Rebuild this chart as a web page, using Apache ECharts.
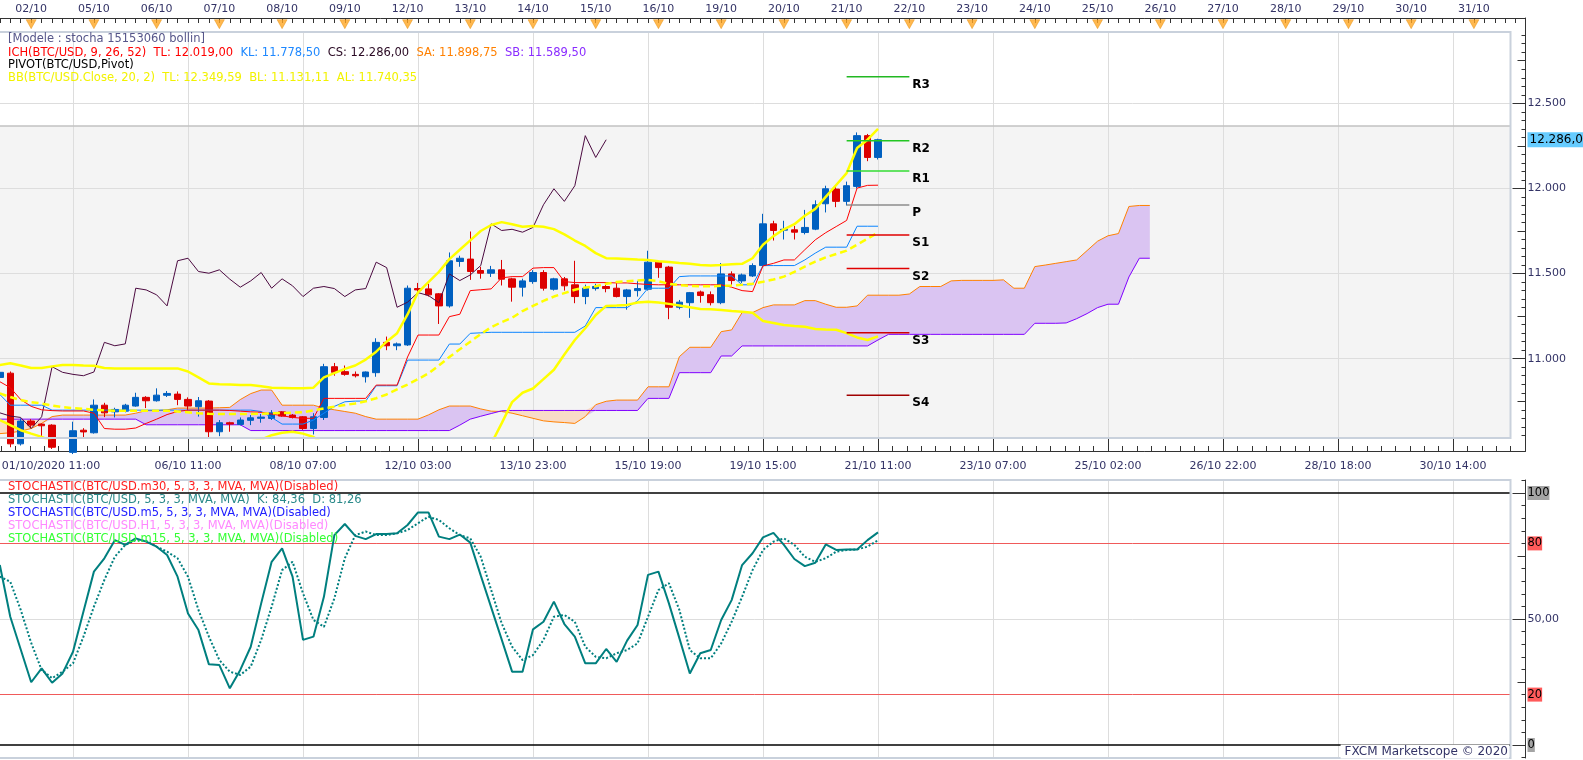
<!DOCTYPE html>
<html>
<head>
<meta charset="utf-8">
<script src="https://cdn.jsdelivr.net/npm/echarts@6/dist/echarts.min.js"></script>
<style>html,body{margin:0;padding:0;background:#fff;}#c{width:1583px;height:760px;}</style>
</head>
<body>
<div id="c"></div>
<script>
// ---------------- DATA ----------------
const opens = [
10890,10915,10500,10634,10616,10610,10480,10450,10580,10565,
10727,10688,10692,10722,10773,10753,10785,10792,10761,10718,
10751,10571,10624,10614,10638,10650,10649,10688,10669,10659,
10590,10655,10953,10924,10908,10894,10918,11096,11076,11081,
11412,11410,11381,11310,11571,11585,11518,11502,11522,11469,
11420,11453,11506,11408,11469,11434,11365,11412,11424,11414,
11365,11400,11408,11567,11538,11302,11329,11392,11376,11329,
11498,11457,11486,11547,11792,11755,11757,11741,11761,11910,
11996,11924,12012,12310,12182];
const closes = [
10920,10500,10634,10610,10606,10480,10450,10577,10570,10727,
10682,10702,10727,10773,10753,10786,10796,10761,10722,10753,
10571,10624,10616,10640,10653,10657,10682,10663,10655,10590,
10659,10953,10920,10908,10900,10922,11096,11076,11087,11414,
11404,11375,11310,11575,11590,11512,11502,11522,11467,11420,
11457,11506,11414,11469,11428,11365,11414,11424,11412,11365,
11404,11412,11567,11535,11302,11332,11388,11371,11329,11498,
11459,11492,11547,11792,11753,11760,11743,11771,11904,11998,
11924,12016,12310,12182,12286];
const highs = [
10935,10925,10650,10645,10620,10615,10520,10630,10592,10761,
10741,10712,10735,10800,10780,10826,10810,10808,10773,10775,
10757,10640,10630,10655,10669,10675,10698,10692,10675,10663,
10680,10970,10975,10960,10925,10925,11120,11130,11095,11430,
11445,11440,11385,11624,11605,11747,11540,11545,11580,11475,
11470,11520,11520,11475,11480,11575,11435,11440,11450,11453,
11410,11457,11634,11575,11545,11345,11392,11400,11395,11562,
11513,11500,11560,11851,11810,11810,11780,11874,11930,12016,
12012,12040,12329,12320,12292];
const lows = [
10880,10480,10490,10592,10541,10470,10400,10440,10530,10560,
10657,10655,10685,10718,10710,10748,10775,10727,10698,10660,
10538,10545,10571,10608,10610,10624,10640,10659,10649,10582,
10555,10640,10900,10900,10890,10860,10894,11050,11050,11075,
11390,11365,11204,11300,11540,11463,11470,11480,11430,11335,
11365,11440,11400,11400,11400,11326,11320,11400,11390,11360,
11288,11365,11400,11475,11232,11290,11240,11329,11313,11320,
11434,11445,11480,11540,11694,11700,11700,11730,11755,11859,
11890,11900,12000,12160,12170];

// Ichimoku
const tenkan = [
10865,10830,10760,10720,10700,10695,10693,10693,10693,10680,
10590,10586,10586,10593,10620,10645,10672,10690,10698,10698,
10698,10698,10696,10692,10688,10685,10675,10665,10655,10650,
10650,10767,10767,10767,10767,10767,10845,10845,10845,11010,
11139,11139,11139,11247,11261,11400,11405,11410,11475,11482,
11482,11532,11535,11535,11453,11447,11447,11447,11447,11445,
11445,11440,11436,11434,11434,11434,11434,11434,11434,11434,
11420,11400,11394,11545,11560,11580,11580,11640,11698,11740,
11776,11812,12002,12018,12019];
const kijun = [
10790,10727,10727,10727,10727,10698,10698,10698,10698,10698,
10698,10698,10698,10698,10698,10698,10698,10698,10698,10698,
10698,10698,10698,10698,10698,10690,10655,10616,10616,10616,
10640,10680,10720,10747,10751,10751,10841,10841,10841,10992,
10992,10992,10992,11086,11086,11149,11152,11155,11155,11155,
11155,11155,11155,11155,11155,11155,11192,11300,11300,11300,
11300,11340,11414,11414,11414,11482,11486,11486,11486,11486,
11486,11434,11434,11547,11547,11547,11547,11580,11620,11655,
11655,11655,11778,11778,11778];
const chikou = [
10682,10663,10655,10590,10659,10953,10920,10908,10900,10922,
11096,11076,11087,11414,11404,11375,11310,11575,11590,11512,
11502,11522,11467,11420,11457,11506,11414,11469,11428,11365,
11414,11424,11412,11365,11404,11412,11567,11535,11302,11332,
11388,11371,11329,11498,11459,11492,11547,11792,11753,11760,
11743,11771,11904,11998,11924,12016,12310,12182,12286];
const senkouA = [
10560,10565,10575,10590,10620,10660,10669,10669,10669,10669,
10669,10669,10669,10680,10695,10695,10700,10710,10710,10710,
10710,10712,10714,10760,10795,10816,10816,10727,10727,10727,
10727,10710,10700,10690,10680,10660,10645,10645,10645,10645,
10645,10670,10700,10722,10722,10722,10705,10692,10690,10680,
10665,10650,10635,10629,10625,10620,10660,10730,10750,10757,
10757,10757,10835,10835,10835,11012,11067,11067,11067,11159,
11169,11271,11271,11300,11316,11316,11316,11341,11341,11320,
11302,11302,11310,11373,11373,11373,11373,11380,11424,11424,
11424,11457,11460,11460,11460,11460,11463,11414,11414,11541,
11550,11560,11570,11580,11635,11690,11722,11735,11894,11900,
11900];
const senkouB = [
10645,10645,10645,10645,10645,10645,10645,10645,10645,10645,
10645,10645,10645,10645,10612,10612,10612,10612,10612,10612,
10612,10612,10612,10612,10578,10578,10578,10578,10578,10578,
10578,10578,10578,10578,10578,10578,10578,10578,10578,10578,
10578,10578,10578,10578,10610,10645,10662,10678,10694,10696,
10696,10696,10696,10696,10696,10696,10696,10696,10696,10696,
10696,10696,10767,10767,10767,10918,10918,10918,10918,11016,
11016,11075,11075,11075,11075,11075,11075,11075,11075,11075,
11075,11075,11075,11075,11110,11143,11143,11143,11143,11143,
11143,11143,11143,11143,11143,11143,11143,11143,11143,11208,
11208,11208,11210,11235,11265,11300,11320,11320,11480,11590,
11590];

// Bollinger (20, 2)
const bbUpper = [
10963,10973,10960,10945,10945,10955,10963,10963,10960,10959,
10945,10943,10943,10943,10943,10943,10943,10943,10925,10890,
10855,10850,10848,10846,10845,10838,10830,10828,10826,10826,
10830,10890,10915,10940,10960,10995,11041,11100,11150,11260,
11390,11450,11510,11585,11640,11695,11750,11785,11802,11790,
11775,11780,11775,11761,11730,11694,11662,11620,11590,11588,
11585,11582,11580,11573,11568,11562,11557,11551,11548,11550,
11555,11557,11590,11669,11720,11760,11790,11840,11880,11950,
12020,12090,12237,12286,12350];
const bbMiddle = [
10796,10775,10757,10745,10737,10725,10716,10710,10706,10700,
10697,10694,10694,10694,10694,10694,10694,10690,10685,10680,
10676,10675,10675,10675,10675,10677,10679,10681,10683,10686,
10697,10708,10718,10728,10737,10750,10768,10790,10820,10848,
10880,10914,10960,11010,11055,11100,11145,11185,11215,11240,
11280,11310,11340,11365,11385,11405,11418,11426,11440,11450,
11455,11460,11463,11455,11440,11432,11428,11425,11425,11428,
11430,11434,11440,11452,11465,11482,11510,11541,11570,11595,
11615,11635,11670,11705,11740];
const bbLower = [
10640,10610,10580,10560,10541,10515,10470,10440,10430,10420,
10420,10420,10420,10420,10420,10420,10420,10420,10420,10430,
10450,10470,10490,10505,10515,10525,10551,10565,10571,10560,
10540,10500,10450,10420,10400,10400,10400,10400,10400,10400,
10400,10400,10400,10400,10400,10420,10460,10500,10620,10745,
10800,10825,10880,10935,11025,11110,11179,11257,11310,11312,
11316,11330,11335,11330,11322,11312,11302,11292,11290,11286,
11280,11276,11270,11222,11210,11198,11192,11188,11175,11172,
11170,11150,11125,11110,11131];

// Pivot levels
const pivotNames  = ['R3','R2','R1','P','S1','S2','S3','S4'];
const pivotValues = [12656,12280,12102,11902,11726,11530,11152,10785];
const pivotColors = ['#22b822','#22c622','#33dd33','#8c8c8c','#e00000','#e00000','#d00000','#a00000'];
const pivotFrom = 81, pivotTo = 87;

// Stochastic (5,3,3)
const stochK = [
71.4,50.9,37.9,24.9,30.4,24.7,28.4,37,53,68.8,
74.1,81.3,79.4,82,80.7,78.7,75.4,66.8,52.2,45.6,
32,31.7,22.5,29.8,39,56.2,72.7,78,66.8,41.7,
43,58.8,83.3,87.7,83,81.7,83.7,83.7,84,87.3,
92.3,92.3,82.7,81.7,83.5,80.3,67.3,54.6,41.9,29.1,
29.1,45.9,48.9,56.9,48,43,32.4,32.4,38.1,33,
41.4,47.6,67.5,68.8,56.2,42.4,28.4,36.4,37.7,49.6,
57.5,71.4,76.1,82.4,84.2,79.4,73.8,71,72.3,79.6,
77.4,77.6,77.6,81.3,84.36];
const stochD = [
66.8,64.8,53.6,40.5,29.8,26.5,29.1,32.4,43,54.9,
65.5,74.7,79.4,81.3,81,78.7,76.7,74.1,66.8,53.6,
43,33.7,29.1,27.8,31.1,41.7,54.9,69.4,72.7,60.2,
49.6,46.9,58.2,74.1,83.3,84.7,83.3,83.3,84,85.3,
88,90.6,89.3,86,83.3,82,74.7,61.5,48.3,39,
33.7,35.7,41.7,50.9,51.6,48.9,39,35,34.4,36.4,
37.7,40.3,50.9,61.5,64.2,53.6,37.7,34.4,34.4,40.3,
48.9,58.8,69.4,77.4,80.7,82,79.4,74.7,72.7,74.1,
76.7,77.4,77.6,78.7,81.26];

// Axis labels
const dayLabels = ['02/10','05/10','06/10','07/10','08/10','09/10','12/10','13/10','14/10','15/10','16/10','19/10',
                   '20/10','21/10','22/10','23/10','24/10','25/10','26/10','27/10','28/10','29/10','30/10','31/10'];
const dayIdx    = [3,9,15,21,27,33,39,45,51,57,63,69,75,81,87,93,99,105,111,117,123,129,135,141];
const timeLabels = ['01/10/2020 11:00','06/10 11:00','08/10 07:00','12/10 03:00','13/10 23:00','15/10 19:00',
                    '19/10 15:00','21/10 11:00','23/10 07:00','25/10 02:00','26/10 22:00','28/10 18:00','30/10 14:00'];
const timeIdx = [7,18,29,40,51,62,73,84,95,106,117,128,139];
const priceLabels = [11000,11500,12000,12500];
const lastPrice = 12286;
const stochLabels = [0,20,50,80,100];

// ---------------- LAYOUT ----------------
const SLOT = 115 / 11;
const GRID_LEFT = -0.18 - SLOT / 2;
const NCAT = 145;
const GRID_W = NCAT * SLOT;
const RULER_W = GRID_W + 15;
const RULER_MAX = -0.5 + RULER_W / SLOT;
const MAIN_MIN = 10534.3, MAIN_MAX = 12918.7;
const STO_MIN = -5.16, STO_MAX = 105.16;
const FONT = '"DejaVu Sans", Verdana, sans-serif';
const NAVY = '#333366';

const cats = Array.from({length: NCAT}, (_, i) => String(i));
const fmtK = v => String(Math.round(v)).replace(/\B(?=(\d{3})+(?!\d))/g, '.');
const fmtPrice = v => fmtK(Math.floor(v)) + ',' + (Math.round((v - Math.floor(v)) * 100) + '').padStart(2, '0');

const range = (a, b, s) => { const r = []; for (let v = a; v <= b + 1e-9; v += s) r.push(+v.toFixed(4)); return r; };
const mainMinor = range(10550, 12900, 50);
const mainMid = [10750, 11250, 11750, 12250, 12750];
const stoMinor = range(-5, 105, 5);
const topTicks = range(0, 145, 1);
const bottomMinor = range(7 - 5 * 11 / 8, RULER_MAX, 11 / 8).filter(v => v >= -0.5);

const candleData = opens.map((o, i) => [o, closes[i], lows[i], highs[i]]);
const cloudBase = senkouA.map((a, i) => Math.min(a, senkouB[i]));
const cloudUp = senkouA.map((a, i) => Math.max(a - senkouB[i], 0));
const cloudDown = senkouA.map((a, i) => Math.max(senkouB[i] - a, 0));

const vGrid = timeIdx.map(i => ({ xAxis: String(i) }));
const noSym = { symbol: 'none', showSymbol: false, silent: true, animation: false };

function line(name, data, color, width, z, extra) {
  return Object.assign({ type: 'line', name, data, xAxisIndex: 0, yAxisIndex: 0, z,
    lineStyle: { color, width }, clip: true }, noSym, extra || {});
}

const series = [
  Object.assign({ type: 'line', name: 'cloudBase', data: cloudBase, stack: 'cloud', z: 2, xAxisIndex: 0, yAxisIndex: 0,
    lineStyle: { opacity: 0 },
    markArea: { z: 0, silent: true, itemStyle: { color: '#f4f4f4' },
      data: [[{ yAxis: 12367 }, { yAxis: MAIN_MIN }]] },
    markLine: { z: 1, silent: true, symbol: ['none', 'none'], label: { show: false }, animation: false,
      lineStyle: { color: '#dddddd', width: 1, type: 'solid' },
      data: vGrid.concat(priceLabels.map(v => ({ yAxis: v })))
        .concat([{ yAxis: 12367, lineStyle: { color: '#c2c2c2', width: 1.5, type: 'solid' } }]) }
  }, noSym),
  Object.assign({ type: 'line', name: 'cloudUp', data: cloudUp, stack: 'cloud', z: 2, xAxisIndex: 0, yAxisIndex: 0,
    lineStyle: { opacity: 0 }, areaStyle: { color: '#dac4f2', opacity: 1 } }, noSym),
  Object.assign({ type: 'line', name: 'cloudDown', data: cloudDown, stack: 'cloud', z: 2, xAxisIndex: 0, yAxisIndex: 0,
    lineStyle: { opacity: 0 }, areaStyle: { color: '#f8dcc8', opacity: 1 } }, noSym),
  line('SA', senkouA, '#ff8000', 1, 3),
  line('SB', senkouB, '#8000ff', 1, 3),
  {
    type: 'candlestick', name: 'BTC/USD', data: candleData, xAxisIndex: 0, yAxisIndex: 0, z: 4,
    barWidth: 7, clip: true, silent: true, animation: false,
    itemStyle: { color: '#0060c0', color0: '#dc0000', borderColor: '#0060c0', borderColor0: '#dc0000', borderWidth: 1 }
  },
  line('CS', chikou, '#4b0a40', 1, 5),
  line('KL', kijun, '#0a84ff', 1, 5),
  line('TL', tenkan, '#ff0000', 1, 5),
  line('BBL', bbLower, '#ffff00', 2.5, 5),
  line('BBU', bbUpper, '#ffff00', 2.5, 5),
  line('BBM', bbMiddle, '#ffff00', 2.5, 5, { lineStyle: { color: '#ffff00', width: 2.5, type: [7, 4] } }),
];

pivotNames.forEach((nm, k) => {
  series.push(Object.assign({
    type: 'line', name: nm, xAxisIndex: 0, yAxisIndex: 0, z: 6,
    data: [[pivotFrom, pivotValues[k]], [pivotTo, pivotValues[k]]],
    lineStyle: { color: pivotColors[k], width: 1.5 },
    endLabel: { show: true, formatter: nm, offset: [0, 8], distance: 3, color: '#000',
      fontFamily: FONT, fontSize: 12, fontWeight: 'bold' }
  }, noSym));
});

series.push(Object.assign({
  type: 'line', name: 'D', data: stochD, xAxisIndex: 1, yAxisIndex: 3, z: 4,
  lineStyle: { color: '#007f7f', width: 2, type: [2, 2] },
  markLine: { z: 1, silent: true, symbol: ['none', 'none'], label: { show: false }, animation: false,
    lineStyle: { color: '#dddddd', width: 1, type: 'solid' },
    data: vGrid.concat([{ yAxis: 50 }]) }
}, noSym));
series.push(Object.assign({
  type: 'line', name: 'K', data: stochK, xAxisIndex: 1, yAxisIndex: 3, z: 5,
  lineStyle: { color: '#007f7f', width: 2 },
  markLine: { z: 3, silent: true, symbol: ['none', 'none'], label: { show: false }, animation: false,
    data: [
      { yAxis: 100, lineStyle: { color: '#000', width: 1.5, type: 'solid' } },
      { yAxis: 0, lineStyle: { color: '#000', width: 1.5, type: 'solid' } },
      { yAxis: 80, lineStyle: { color: '#f05a5a', width: 1, type: 'solid' } },
      { yAxis: 20, lineStyle: { color: '#f05a5a', width: 1, type: 'solid' } }
    ] }
}, noSym));

series.push({
  type: 'scatter', name: 'days', xAxisIndex: 2, yAxisIndex: 6, z: 5, silent: true, animation: false,
  data: dayIdx.map(i => [i, 0.56]),
  symbol: 'path://M0,0 L10,0 L5,9 Z', symbolSize: [10, 9],
  itemStyle: { color: '#ffa623', borderColor: '#e08800', borderWidth: 0.5 }
});

const hidden = { show: false };
const axisLineDark = { show: true, onZero: false, lineStyle: { color: '#333', width: 1 } };
function tickAxisY(grid, min, max, len, values) {
  return { gridIndex: grid, type: 'value', min, max, position: 'right', offset: 15,
    axisLine: { show: false, onZero: false },
    axisTick: { show: true, inside: true, length: len, customValues: values, lineStyle: { color: '#333' } },
    axisLabel: hidden, splitLine: hidden };
}

const option = {
  animation: false,
  backgroundColor: '#ffffff',
  textStyle: { fontFamily: FONT },
  grid: [
    { left: GRID_LEFT, top: 32, width: GRID_W, height: 406, show: true, backgroundColor: 'transparent',
      borderColor: '#c9d1dc', borderWidth: 2, z: 20, containLabel: false, outerBoundsMode: 'none' },
    { left: GRID_LEFT, top: 480, width: GRID_W, height: 278, show: true, backgroundColor: 'transparent',
      borderColor: '#c9d1dc', borderWidth: 2, z: 20, containLabel: false, outerBoundsMode: 'none' },
    { left: GRID_LEFT, top: 18, width: RULER_W, height: 14, show: false, containLabel: false, outerBoundsMode: 'none' },
    { left: GRID_LEFT, top: 438, width: RULER_W, height: 13, show: false, containLabel: false, outerBoundsMode: 'none' }
  ],
  xAxis: [
    { gridIndex: 0, type: 'category', data: cats, boundaryGap: true, show: false },
    { gridIndex: 1, type: 'category', data: cats, boundaryGap: true, show: false },
    { gridIndex: 2, type: 'value', min: -0.5, max: RULER_MAX, position: 'top',
      axisLine: axisLineDark,
      axisTick: { show: true, inside: true, length: 5, customValues: topTicks, lineStyle: { color: '#333' } },
      axisLabel: { show: true, customValues: dayIdx, margin: 3, color: NAVY, fontFamily: FONT, fontSize: 11,
        formatter: v => dayLabels[dayIdx.indexOf(Math.round(v))] || '' },
      splitLine: hidden },
    { gridIndex: 3, type: 'value', min: -0.5, max: RULER_MAX, position: 'bottom',
      axisLine: axisLineDark,
      axisTick: { show: true, inside: true, length: 5, customValues: bottomMinor, lineStyle: { color: '#333' } },
      axisLabel: { show: true, customValues: timeIdx, margin: 10, color: NAVY, fontFamily: FONT, fontSize: 11,
        formatter: v => { const k = timeIdx.indexOf(Math.round(v)); if (k < 0) return ''; return k === 0 ? '{f|' + timeLabels[k] + '}' : timeLabels[k]; },
        rich: { f: { padding: [0, 44, 0, 0], color: NAVY, fontFamily: FONT, fontSize: 11 } } },
      splitLine: hidden },
    { gridIndex: 3, type: 'value', min: -0.5, max: RULER_MAX, position: 'bottom',
      axisLine: { show: false, onZero: false },
      axisTick: { show: true, inside: true, length: 13, customValues: timeIdx, lineStyle: { color: '#333' } },
      axisLabel: hidden, splitLine: hidden }
  ],
  yAxis: [
    { gridIndex: 0, type: 'value', min: MAIN_MIN, max: MAIN_MAX, position: 'right', offset: 15,
      axisLine: axisLineDark,
      axisTick: { show: true, inside: true, length: 4, customValues: mainMinor, lineStyle: { color: '#333' } },
      axisLabel: { show: true, customValues: priceLabels.concat([lastPrice]), margin: 2, color: NAVY,
        fontFamily: FONT, fontSize: 11,
        formatter: v => Math.round(v) === lastPrice ? '{p|' + fmtPrice(v) + '}' : fmtK(v),
        rich: { p: { backgroundColor: '#66ccff', color: '#000', padding: [2, 2, 1, 2], fontFamily: FONT, fontSize: 12 } } },
      splitLine: hidden },
    tickAxisY(0, MAIN_MIN, MAIN_MAX, 13, priceLabels),
    tickAxisY(0, MAIN_MIN, MAIN_MAX, 8, mainMid),
    { gridIndex: 1, type: 'value', min: STO_MIN, max: STO_MAX, position: 'right', offset: 15,
      axisLine: axisLineDark,
      axisTick: { show: true, inside: true, length: 4, customValues: stoMinor, lineStyle: { color: '#333' } },
      axisLabel: { show: true, customValues: stochLabels, margin: 2, color: NAVY, fontFamily: FONT, fontSize: 11,
        formatter: v => { v = Math.round(v); if (v === 50) return '50,00'; if (v === 20 || v === 80) return '{r|' + v + '}'; return '{g|' + v + '}'; },
        rich: { r: { backgroundColor: '#ff5a5a', color: '#000', padding: [1, 0, 1, 0], fontFamily: FONT, fontSize: 11.5 },
                g: { backgroundColor: '#a4a4a4', color: '#000', padding: [1, 0, 1, 0], fontFamily: FONT, fontSize: 11.5 } } },
      splitLine: hidden },
    tickAxisY(1, STO_MIN, STO_MAX, 13, [0, 50, 100]),
    tickAxisY(1, STO_MIN, STO_MAX, 8, [25, 75]),
    { gridIndex: 2, type: 'value', min: 0, max: 1, position: 'right', axisLine: axisLineDark,
      axisTick: hidden, axisLabel: hidden, splitLine: hidden },
    { gridIndex: 3, type: 'value', min: 0, max: 1, position: 'right', axisLine: axisLineDark,
      axisTick: hidden, axisLabel: hidden, splitLine: hidden }
  ],
  graphic: [],
  series
};

function txt(x, y, text, fill, extra, size) {
  const fs = size || 11.5;
  return { type: 'text', x, y, z: 100, silent: true,
    style: Object.assign({ text, fill, fontSize: fs, fontFamily: FONT, font: fs + 'px ' + FONT,
      align: 'left', verticalAlign: 'middle', textAlign: 'left', textVerticalAlign: 'middle' }, extra || {}) };
}
const F = '11.5px ' + FONT;
option.graphic = [
  txt(8, 39.3, '[Modele : stocha 15153060 bollin]', '#56568a'),
  txt(8, 52.7, '{r|ICH(BTC/USD, 9, 26, 52)  TL: 12.019,00}  {b|KL: 11.778,50}  {k|CS: 12.286,00}  {o|SA: 11.898,75}  {v|SB: 11.589,50}', '#000',
    { rich: { r: { fill: '#ff0000', font: F }, b: { fill: '#1e88ff', font: F }, k: { fill: '#2a0a24', font: F },
              o: { fill: '#ff8000', font: F }, v: { fill: '#8a2cff', font: F } } }),
  txt(8, 65.3, 'PIVOT(BTC/USD,Pivot)', '#000000'),
  txt(8, 78.3, 'BB(BTC/USD.Close, 20, 2)  TL: 12.349,59  BL: 11.131,11  AL: 11.740,35', '#f2f200'),
  txt(8, 486.7, 'STOCHASTIC(BTC/USD.m30, 5, 3, 3, MVA, MVA)(Disabled)', '#ff2020'),
  txt(8, 500, 'STOCHASTIC(BTC/USD, 5, 3, 3, MVA, MVA)  K: 84,36  D: 81,26', '#2a8a8a'),
  txt(8, 513.3, 'STOCHASTIC(BTC/USD.m5, 5, 3, 3, MVA, MVA)(Disabled)', '#2020ff'),
  txt(8, 526, 'STOCHASTIC(BTC/USD.H1, 5, 3, 3, MVA, MVA)(Disabled)', '#ff88ff'),
  txt(8, 539, 'STOCHASTIC(BTC/USD.m15, 5, 3, 3, MVA, MVA)(Disabled)', '#33ff33'),
  txt(1509, 751.5, 'FXCM Marketscope \u00A9 2020', NAVY,
    { align: 'right', textAlign: 'right', backgroundColor: '#ffffff', padding: [1, 1, 1, 4] }, 12)
];

const chart = echarts.init(document.getElementById('c'), null, { renderer: 'canvas' });
chart.setOption(option);
</script>
</body>
</html>
